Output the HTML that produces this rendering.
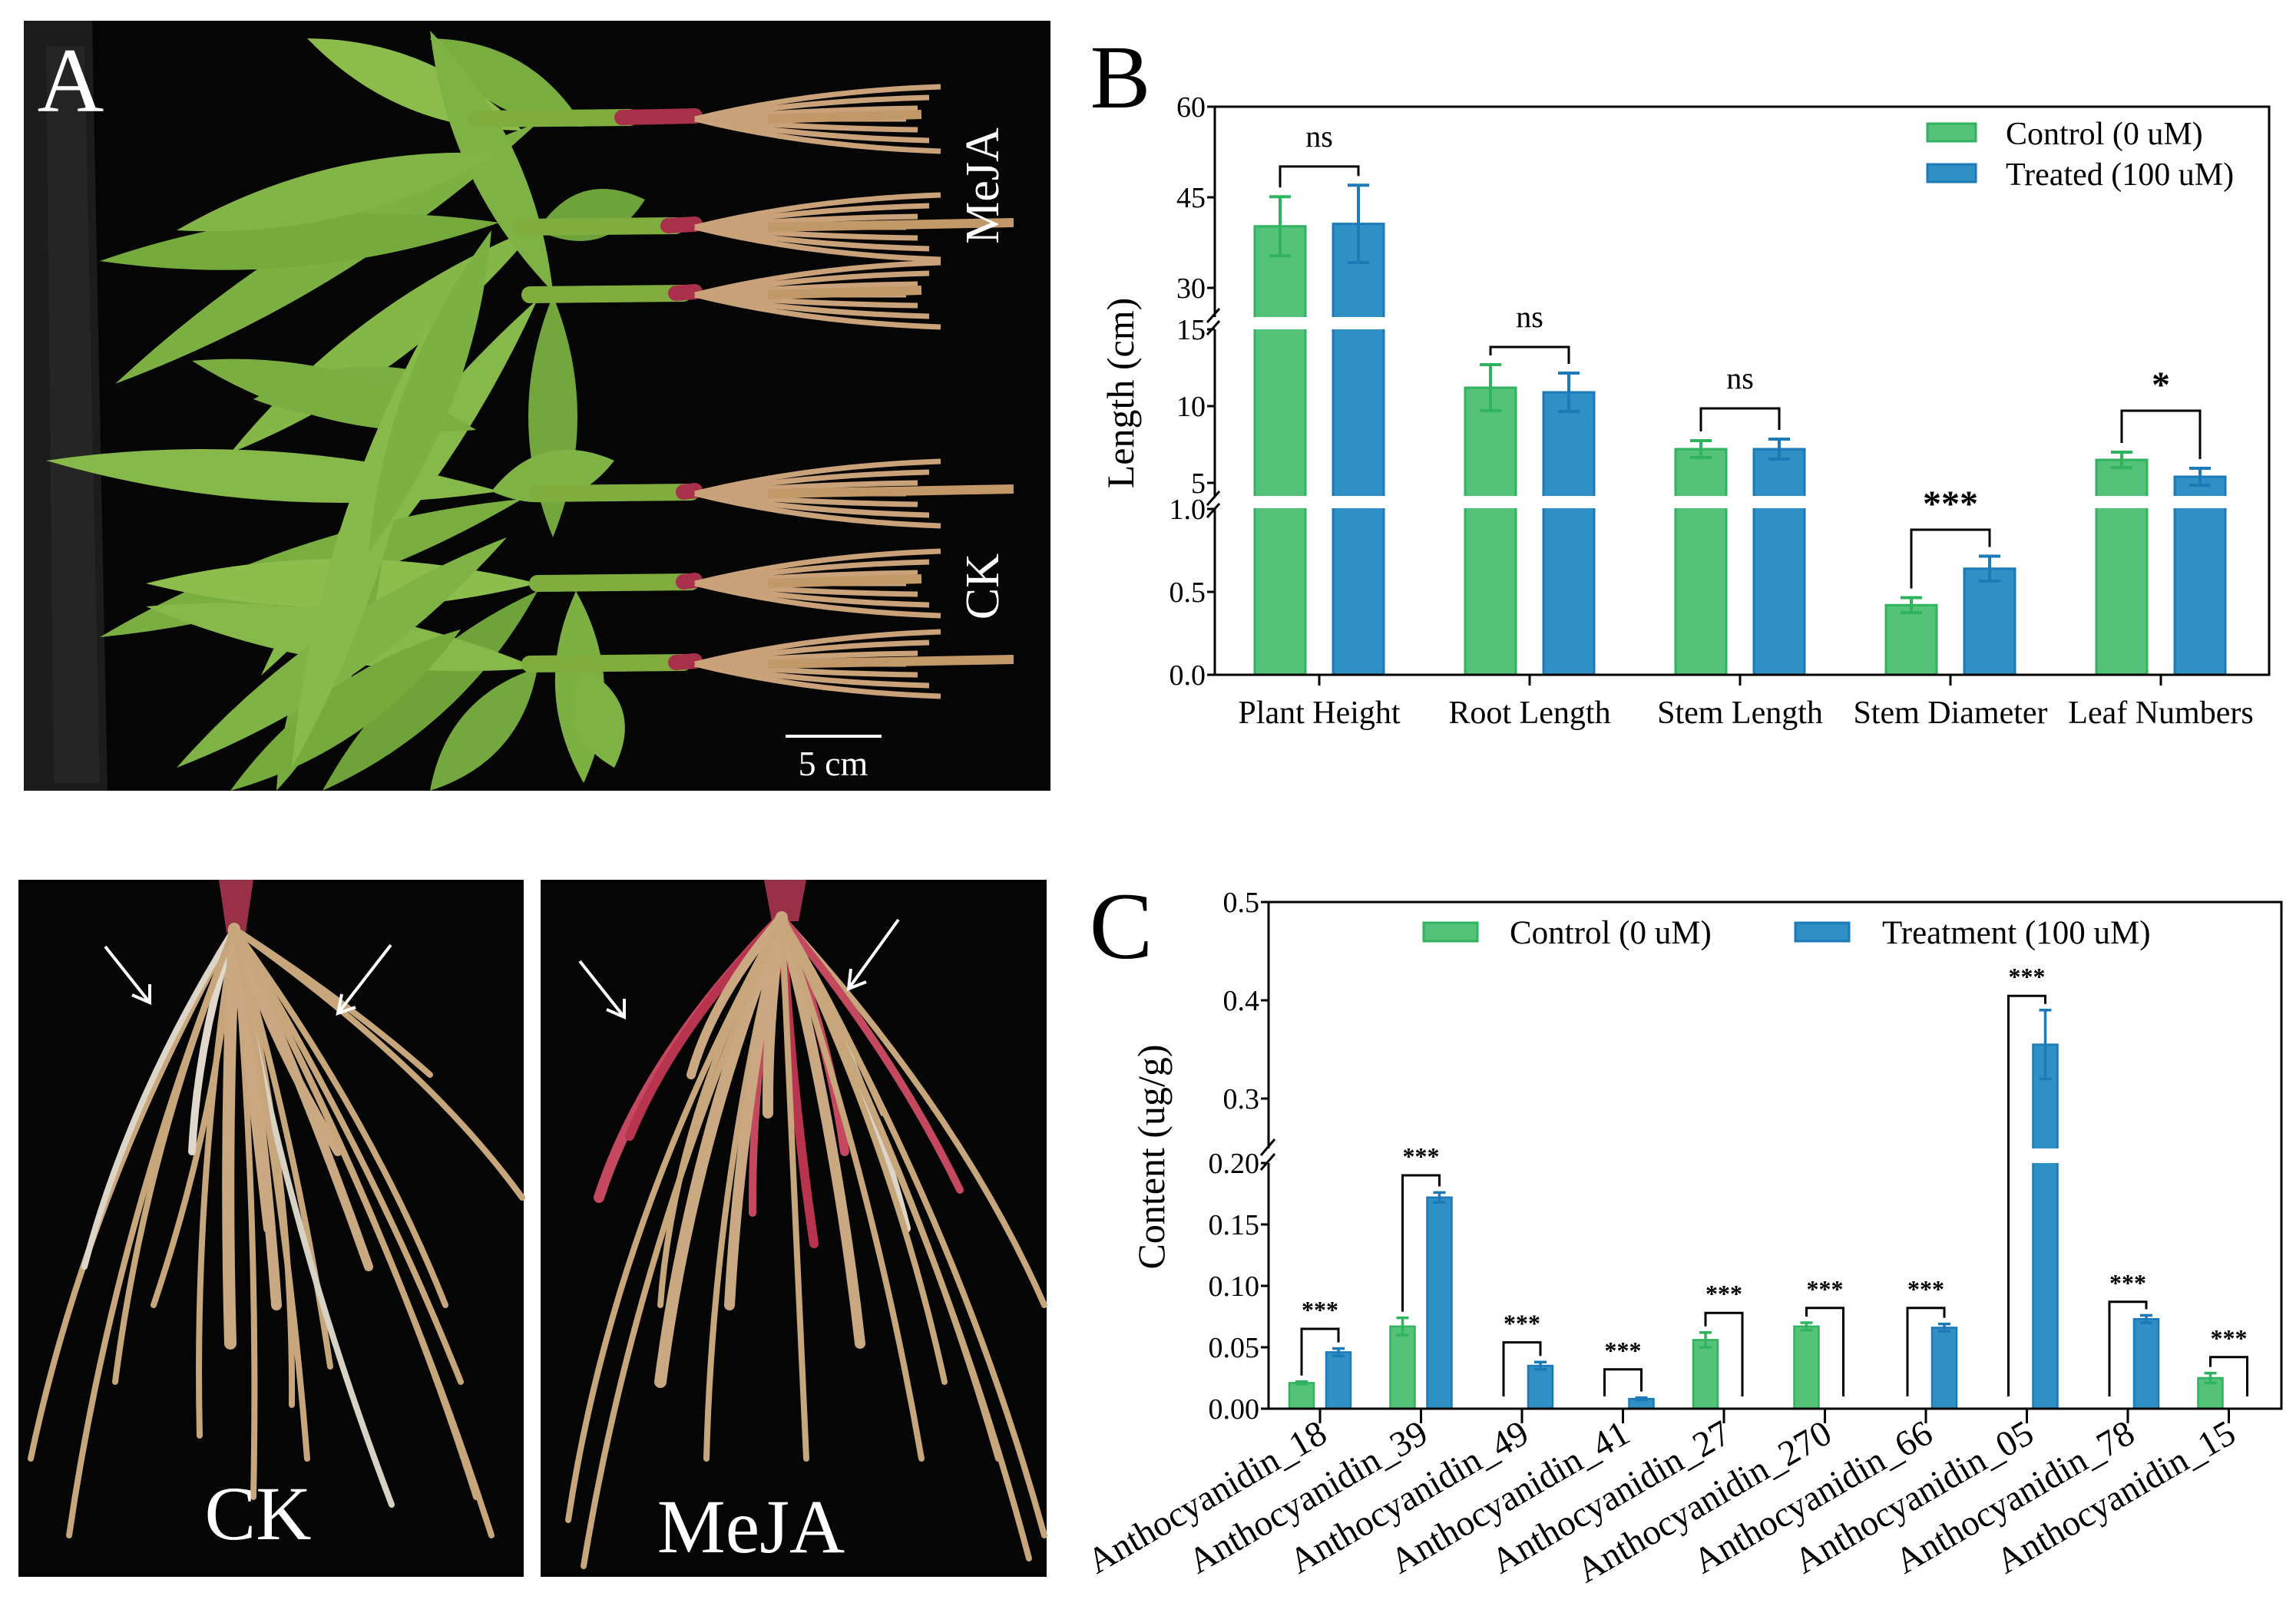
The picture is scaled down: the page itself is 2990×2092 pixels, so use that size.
<!DOCTYPE html>
<html><head><meta charset="utf-8"><style>
html,body{margin:0;padding:0;background:#fff}
svg{display:block}
text{font-family:"Liberation Serif","Times New Roman",serif}
</style></head><body>
<svg id="fig" width="2990" height="2092" viewBox="0 0 2990 2092" xmlns="http://www.w3.org/2000/svg">
<rect width="2990" height="2092" fill="#fff"/>
<g id="photoA">
<rect x="31" y="27" width="1337" height="1003" fill="#050505"/>
<path d="M31,27 L120,27 L140,1030 L31,1030 Z" fill="#1c1c1c"/>
<path d="M60,60 L110,60 L130,1020 L70,1020 Z" fill="#2a2a2a" opacity="0.7"/>
</g>
<g id="leavesA"></g>
<g id="stemsA"></g>
<g id="rootsA"></g>
<text x="92" y="145" font-size="120" fill="#fff" text-anchor="middle">A</text>
<text transform="translate(1300,242) rotate(-90)" font-size="62" fill="#fff" text-anchor="middle">MeJA</text>
<text transform="translate(1300,764) rotate(-90)" font-size="62" fill="#fff" text-anchor="middle">CK</text>
<line x1="1023" y1="959" x2="1148" y2="959" stroke="#fff" stroke-width="4"/>
<text x="1085" y="1010" font-size="46" fill="#fff" text-anchor="middle">5 cm</text>

<rect x="24" y="1146" width="658" height="908" fill="#050505"/>
<rect x="704" y="1146" width="659" height="908" fill="#050505"/>
<g id="rootsBottom"></g>
<g stroke="#fff" stroke-width="4" fill="none">
<path d="M137,1233 L195,1306 M172,1296 L195,1306 L195,1282"/>
<path d="M509,1231 L440,1320 M445,1295 L440,1320 L463,1312"/>
<path d="M755,1252 L813,1325 M790,1315 L813,1325 L813,1301"/>
<path d="M1170,1198 L1105,1288 M1108,1262 L1105,1288 L1128,1279"/>
</g>
<text x="336" y="2005" font-size="100" fill="#fff" text-anchor="middle">CK</text>
<text x="978" y="2022" font-size="100" fill="#fff" text-anchor="middle">MeJA</text>

<g id="chartB"></g>
<g id="chartC"></g>
</svg>
<script>
// ---------- Chart B data ----------
const bCats=['Plant Height','Root Length','Stem Length','Stem Diameter','Leaf Numbers'];
const bControl=[40.2,11.2,7.2,0.42,6.5];
const bControlErr=[4.9,1.5,0.55,0.045,0.5];
const bTreated=[40.6,10.9,7.2,0.64,5.4];
const bTreatedErr=[6.4,1.25,0.65,0.075,0.55];
const bSigTop=[50.1,13.85,9.85,0.875,9.7];
const bSigLabel=['ns','ns','ns','***','*'];
const bTicksUpper=[30,45,60];
const bTicksMid=[5,10,15];
const bTicksLow=['0.0','0.5','1.0'];
// ---------- Chart C data ----------
const cCats=['Anthocyanidin_18','Anthocyanidin_39','Anthocyanidin_49','Anthocyanidin_41','Anthocyanidin_27','Anthocyanidin_270','Anthocyanidin_66','Anthocyanidin_05','Anthocyanidin_78','Anthocyanidin_15'];
const cControl=[0.021,0.067,0,0,0.056,0.067,0,0,0,0.025];
const cControlErr=[0.001,0.007,0,0,0.006,0.003,0,0,0,0.004];
const cTreat=[0.046,0.172,0.035,0.008,0,0,0.066,0.355,0.073,0];
const cTreatErr=[0.003,0.004,0.003,0.001,0,0,0.003,0.035,0.003,0];
const cSigTop=[0.065,0.19,0.054,0.032,0.078,0.082,0.082,0.4045,0.087,0.042];
const cSigLabel=['***','***','***','***','***','***','***','***','***','***'];
const cTicksUpper=['0.3','0.4','0.5'];
const cTicksLow=['0.00','0.05','0.10','0.15','0.20'];

const NS='http://www.w3.org/2000/svg';
function mk(parent,tag,attrs,txt){const e=document.createElementNS(NS,tag);for(const k in attrs)e.setAttribute(k,attrs[k]);if(txt!==undefined)e.textContent=txt;parent.appendChild(e);return e;}
const GF='#55c27a',GS='#2fb35e',BF='#2e90c5',BS='#1d7ab8';

(function(){
const g=document.getElementById('chartB');
const L=1582,R=2955,T=139,BASE=879;
function yB(v){ if(v>=25.2) return 139+(60-v)/15*118; if(v>=4.1) return 429+(15-v)/5*100; return 879-v/0.5*108; }
const x0=1718,dx=274;
function xB(i){return x0+i*dx;}
let t=mk(g,'text',{x:1459,y:140,'font-size':118,fill:'#000','text-anchor':'middle'},'B');


bCats.forEach((c,i)=>{
 [[bControl,bControlErr,-51,GF,GS,'control'],[bTreated,bTreatedErr,51,BF,BS,'treated']].forEach(s=>{
  const v=s[0][i],e=s[1][i],cx=xB(i)+s[2],y=yB(v);
  const r=mk(g,'rect',{x:cx-33,y:y,width:66,height:BASE-y,fill:s[3],stroke:s[4],'stroke-width':3});
  
  
  const ep=mk(g,'path',{d:`M${cx},${yB(v+e)}V${yB(v-e)}M${cx-14},${yB(v+e)}h28M${cx-14},${yB(v-e)}h28`,stroke:s[4],'stroke-width':4,fill:'none'});
  
  
 });
});
mk(g,'rect',{x:L+2,y:413,width:R-L-4,height:16,fill:'#fff'});
mk(g,'rect',{x:L+2,y:646,width:R-L-4,height:16,fill:'#fff'});
bCats.forEach((c,i)=>{
 const xl=xB(i)-51,xr=xB(i)+51,yt=yB(bSigTop[i]);
 const yl=yB(bControl[i]+bControlErr[i])-12,yr=yB(bTreated[i]+bTreatedErr[i])-12;
 const p=mk(g,'path',{d:`M${xl},${yl}V${yt}H${xr}V${yr}`,stroke:'#000','stroke-width':3,fill:'none'});
 
 
 const st=bSigLabel[i]!=='ns';
 const s=mk(g,'text',{x:xB(i),y:yt-(st?18:26),'font-size':st?48:40,'font-weight':st?'bold':'normal','text-anchor':'middle',fill:'#000'},bSigLabel[i]);
 
 
});
const fr=mk(g,'path',{d:`M${L},${T}H${R}V${BASE}H${L}V662M${L},646V429M${L},413V${T}`,stroke:'#000','stroke-width':3,fill:'none'});


mk(g,'path',{d:`M${L-10},420L${L+6},402M${L-10},436L${L+6},418M${L-10},658L${L+6},640M${L-10},674L${L+6},656`,stroke:'#000','stroke-width':3});
function ytick(v,label){const y=yB(v);mk(g,'line',{x1:L-10,y1:y,x2:L,y2:y,stroke:'#000','stroke-width':3});
 const tt=mk(g,'text',{x:L-12,y:y+13,'font-size':38,'text-anchor':'end',fill:'#000'},label);
 
 }
bTicksUpper.forEach(v=>ytick(v,String(v)));
bTicksMid.forEach(v=>ytick(v,String(v)));
bTicksLow.forEach(v=>ytick(parseFloat(v),v));
bCats.forEach((c,i)=>{mk(g,'line',{x1:xB(i),y1:BASE,x2:xB(i),y2:BASE+14,stroke:'#000','stroke-width':3});
 const tt=mk(g,'text',{x:xB(i),y:942,'font-size':42,'text-anchor':'middle',fill:'#000'},c);
 
 });
const yt=mk(g,'text',{transform:'translate(1476,512) rotate(-90)','font-size':50,'text-anchor':'middle',fill:'#000'},'Length (cm)');


[['Control (0 uM)',GF,GS,161],['Treated (100 uM)',BF,BS,214]].forEach((l,k)=>{
 const r=mk(g,'rect',{x:2510,y:l[3],width:63,height:23,fill:l[1],stroke:l[2],'stroke-width':3});
 
 
 const tt=mk(g,'text',{x:2612,y:l[3]+27,'font-size':42,fill:'#000'},l[0]);
 
 
});
})();

(function(){
const g=document.getElementById('chartC');
const L=1652,R=2971,T=1175,BASE=1835;
function yC(v){ if(v>=0.25) return 1175+(0.5-v)/0.1*128; return 1835-v/0.05*80; }
const x0=1719,dx=131.5;
function xC(i){return x0+i*dx;}
let t=mk(g,'text',{x:1460,y:1248,'font-size':124,fill:'#000','text-anchor':'middle'},'C');


cCats.forEach((c,i)=>{
 [[cControl,cControlErr,-24,GF,GS,'control'],[cTreat,cTreatErr,24,BF,BS,'treatment']].forEach(s=>{
  const v=s[0][i],e=s[1][i],cx=xC(i)+s[2];
  if(v<=0) return;
  const y=yC(v);
  const r=mk(g,'rect',{x:cx-16,y:y,width:32,height:BASE-y,fill:s[3],stroke:s[4],'stroke-width':2.5});
  
  
  const ep=mk(g,'path',{d:`M${cx},${yC(v+e)}V${yC(v-e)}M${cx-8},${yC(v+e)}h16M${cx-8},${yC(v-e)}h16`,stroke:s[4],'stroke-width':3.5,fill:'none'});
  
  
 });
});
mk(g,'rect',{x:L+2,y:1496,width:R-L-4,height:19,fill:'#fff'});
cCats.forEach((c,i)=>{
 const xl=xC(i)-24,xr=xC(i)+24,yt=yC(cSigTop[i]);
 const yl=cControl[i]>0?yC(cControl[i]+cControlErr[i])-8:yC(0.01);
 const yr=cTreat[i]>0?yC(cTreat[i]+cTreatErr[i])-8:yC(0.01);
 const p=mk(g,'path',{d:`M${xl},${yl}V${yt}H${xr}V${yr}`,stroke:'#000','stroke-width':3,fill:'none'});
 
 
 const s=mk(g,'text',{x:xC(i),y:yt-14,'font-size':32,'font-weight':'bold','text-anchor':'middle',fill:'#000'},cSigLabel[i]);
 
 
});
const fr=mk(g,'path',{d:`M${L},${T}H${R}V${BASE}H${L}V1515M${L},1496V${T}`,stroke:'#000','stroke-width':3,fill:'none'});


mk(g,'path',{d:`M${L-10},1505L${L+8},1484M${L-10},1524L${L+8},1503`,stroke:'#000','stroke-width':3});
function ytick(v,label){const y=yC(v);mk(g,'line',{x1:L-10,y1:y,x2:L,y2:y,stroke:'#000','stroke-width':3});
 const tt=mk(g,'text',{x:L-12,y:y+13,'font-size':38,'text-anchor':'end',fill:'#000'},label);
 
 }
cTicksUpper.forEach(v=>ytick(parseFloat(v),v));
cTicksLow.forEach(v=>ytick(parseFloat(v),v));
cCats.forEach((c,i)=>{mk(g,'line',{x1:xC(i),y1:BASE,x2:xC(i),y2:BASE+19,stroke:'#000','stroke-width':3});
 const tt=mk(g,'text',{transform:`translate(${xC(i)+12},1876) rotate(-30)`,'font-size':47,'text-anchor':'end',fill:'#000'},c);
 
 });
const yt=mk(g,'text',{transform:'translate(1516,1507) rotate(-90)','font-size':50,'text-anchor':'middle',fill:'#000'},'Content (ug/g)');


[['Control (0 uM)',GF,GS,1854,1966],['Treatment (100 uM)',BF,BS,2338,2451]].forEach((l,k)=>{
 const r=mk(g,'rect',{x:l[3],y:1202,width:70,height:24,fill:l[1],stroke:l[2],'stroke-width':3});
 
 
 const tt=mk(g,'text',{x:l[4],y:1229,'font-size':43,fill:'#000'},l[0]);
 
 
});
})();

(function(){
const lv=document.getElementById('leavesA');
const leaves=[
 [700,160,150,500,'#7db043'],[680,170,400,50,'#8cbc4c'],[760,165,560,50,'#79ad40'],[650,290,130,340,'#76aa3c'],
 [700,295,300,590,'#84b648'],[700,300,840,260,'#6ea23a'],[720,380,560,40,'#7fb245'],[700,390,340,880,'#87b94a'],
 [720,385,720,700,'#73a73d'],[650,640,60,600,'#86b84a'],[680,650,130,830,'#7aae41'],[640,640,800,600,'#80b346'],
 [700,760,190,760,'#8cbd4d'],[700,770,420,1030,'#6fa33a'],[750,770,760,1020,'#7db043'],[700,870,190,790,'#86b84a'],
 [700,870,560,1030,'#74a83e'],[760,870,800,1000,'#7fb245'],[500,700,360,1030,'#78ac40'],[600,500,330,520,'#7cae43'],
 [650,200,230,300,'#82b447'],[620,560,250,470,'#7aae41'],[660,700,230,1000,'#80b346'],[600,820,300,1030,'#76aa3c'],
 [560,420,380,1000,'#88ba4b'],[640,300,480,720,'#7db043']
];
leaves.forEach((l,i)=>{
 const [x1,y1,x2,y2,c]=l;const dx=x2-x1,dy=y2-y1,len=Math.hypot(dx,dy),nx=-dy/len,ny=dx/len,w=32;
 const mx=(x1+x2)/2,my=(y1+y2)/2;
 const p=mk(lv,'path',{d:`M${x1},${y1}Q${mx+nx*w*2},${my+ny*w*2} ${x2},${y2}Q${mx-nx*w*2},${my-ny*w*2} ${x1},${y1}Z`,fill:c});
 
 
});
const st=document.getElementById('stemsA'),rt=document.getElementById('rootsA');
[[155,620],[296,680],[384,690],[643,700],[760,700],[865,690]].forEach((s,i)=>{
 const [y,x]=s;
 const a=mk(st,'path',{d:`M${x},${y}L${x+200},${y-2}`,stroke:'#7fae3f','stroke-width':22,'stroke-linecap':'round'});
 
 
 const b=mk(st,'path',{d:`M${x+190},${y-2}L905,${y-4}`,stroke:'#a8304a','stroke-width':20,'stroke-linecap':'round'});
 
 
 for(let k=-3;k<=3;k++){
  const r=mk(rt,'path',{d:`M905,${y}Q1050,${y+k*12} ${1180+Math.abs(k)*15},${y+k*14}`,stroke:'#c9a27a','stroke-width':7,fill:'none'});
  
  
 }
 const r2=mk(rt,'path',{d:`M1000,${y}L${1200+(i%2)*120},${y-6}`,stroke:'#c29868','stroke-width':12,fill:'none'});
 
 
});
const rb=document.getElementById('rootsBottom');
function fan(ox,oy,ends,col){ends.forEach(e=>{
 const p=mk(rb,'path',{d:`M${ox},${oy}Q${(ox+e[0])/2+e[2]},${(oy+e[1])/2} ${e[0]},${e[1]}`,stroke:e[3]||col,'stroke-width':e[4]||8,fill:'none','stroke-linecap':'round'});
 
 
});}
mk(rb,'path',{d:'M285,1146L330,1146L320,1215L295,1215Z',fill:'#9a3048'});
fan(305,1210,[[40,1900,-60],[110,1650,-40,'#ddd6c8'],[200,1700,30],[260,1870,-30],[330,1950,20],[380,1830,40],[430,1780,20],[510,1960,-40,'#d8d2c4'],[620,1950,40],[680,1560,60],[560,1400,20],[250,1500,-20,'#e0d8cc',10],[350,1600,0,'#c9a882',14],[440,1500,-20,'#c9a882',12],[580,1700,40],
 [300,1750,-10,'#c9a882',16],[360,1700,10,'#c9a882',14],[480,1650,10,'#c9a882',12],[150,1800,-40],[400,1900,20],[600,1800,30],[90,2000,-50],[640,2000,40]],'#c7a67c');
mk(rb,'path',{d:'M995,1146L1050,1146L1040,1200L1005,1200Z',fill:'#9a3048'});
fan(1018,1195,[[740,1980,-80],[780,1560,-60,'#c4485e',14],[820,1480,-40,'#b8344e',12],[860,1700,-60],[920,1900,-40],[980,1580,-20,'#c4485e',10],[1060,1620,-10,'#b8344e',12],[1100,1500,20,'#c4485e',12],[1180,1600,30,'#ddd6c8',12],[1230,1800,40],[1300,1900,40],[1360,2000,60],[1360,1700,60],[1250,1550,30,'#c4485e',10],[1150,1450,10],[1000,1450,-10,'#c9a882',14],[900,1400,-30,'#c9a882',12],
 [860,1800,-40,'#c9a882',16],[950,1700,-20,'#c9a882',14],[1120,1750,20,'#c9a882',14],[1200,1900,30],[760,2040,-60],[1050,1900,0],[1340,2030,50]],'#c7a67c');
})();
</script>
</body></html>
